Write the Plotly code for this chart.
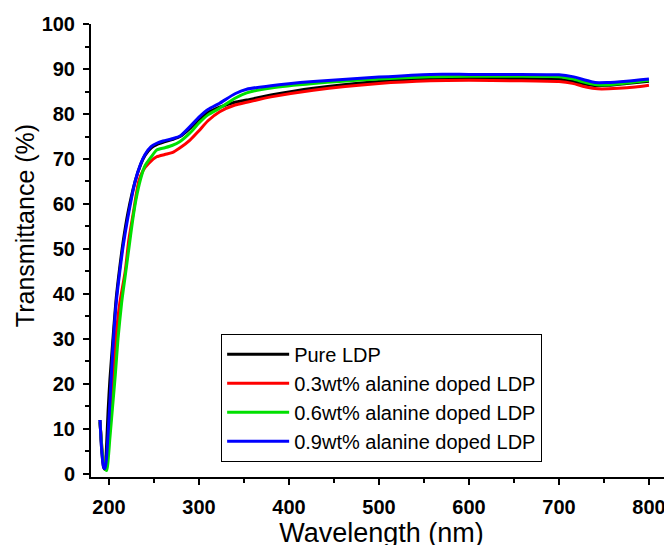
import plotly.graph_objects as go

# ── Data ──────────────────────────────────────────────────────────────────────
SERIES_NAMES = [
    "Pure LDP",
    "0.3wt% alanine doped LDP",
    "0.6wt% alanine doped LDP",
    "0.9wt% alanine doped LDP",
]
SERIES_COLOURS = ["#000000", "#FF0000", "#00E000", "#0000FF"]

wl_pure = [190, 192, 194, 195.5, 197, 199, 201, 204, 208, 212, 216, 221, 229, 235, 240,
           247, 253, 260, 270, 279, 290, 300, 310, 323, 340, 353, 380, 427, 500, 557,
           600, 650, 700, 715, 730, 742, 755, 775, 800]
t_pure = [12, 5, 1.5, 1, 5, 14, 21, 29, 39, 46, 52, 58, 65, 68.7, 70.8,
          72.5, 73.2, 73.7, 74.3, 75.0, 76.8, 78.8, 80.3, 81.5, 82.6, 83.1, 84.2, 85.7, 87.2, 87.9,
          88.0, 87.9, 87.7, 87.3, 86.6, 86.3, 86.4, 86.8, 87.3]

wl_03 = [190, 193, 195.5, 197, 199, 201, 204, 208, 212, 218, 222, 227, 233, 238, 244,
         253, 262, 270, 279, 290, 300, 310, 323, 340, 353, 380, 427, 500, 557,
         600, 650, 700, 715, 730, 743, 766, 785, 800]
t_03 = [11.5, 4, 1.2, 1.5, 6, 12, 20, 31, 38, 45, 52, 58, 65, 67.5, 69,
        70.5, 71, 71.4, 72.5, 74.2, 76.3, 78.5, 80.5, 82.0, 82.6, 83.8, 85.3, 86.8, 87.4,
        87.5, 87.4, 87.2, 86.8, 86.0, 85.6, 85.7, 86.0, 86.4]

wl_06 = [190, 193, 196, 197.5, 199, 201, 204, 207, 210, 214, 218, 222, 226, 230, 235,
         240, 247, 253, 262, 270, 279, 290, 300, 310, 323, 340, 353, 380, 427, 500,
         557, 600, 650, 700, 715, 730, 742, 755, 775, 800]
t_06 = [11.5, 4, 1, 0.8, 3, 8, 15, 22, 30, 38, 44, 50, 56, 61, 65.5,
        68.5, 70.5, 72, 72.5, 73, 73.9, 75.8, 78, 79.8, 81.3, 83.5, 84.7, 85.8, 86.8, 87.8,
        88.3, 88.4, 88.4, 88.3, 87.8, 87.0, 86.5, 86.5, 86.9, 87.5]

wl_09 = [190, 192, 194, 195.5, 197, 199, 201, 204, 208, 212, 216, 221, 229, 235, 240,
         247, 253, 260, 270, 279, 290, 300, 310, 323, 340, 353, 380, 427, 500, 557,
         600, 650, 700, 715, 730, 740, 753, 775, 800]
t_09 = [12, 5, 1.5, 1.2, 3, 9, 16, 27, 38, 45, 51, 57, 65, 68.8, 71,
        72.8, 73.5, 74, 74.5, 75.1, 77.2, 79.3, 81, 82.4, 84.5, 85.5, 86.3, 87.2, 88.2, 88.8,
        88.8, 88.8, 88.7, 88.3, 87.5, 87.0, 87.0, 87.3, 87.8]

X_TICKS = [200, 300, 400, 500, 600, 700, 800]
Y_TICKS = [0, 10, 20, 30, 40, 50, 60, 70, 80, 90, 100]

FONT = "Arial, Liberation Sans, sans-serif"

fig = go.Figure()

for name, colour, xs, ys in zip(
    SERIES_NAMES, SERIES_COLOURS,
    [wl_pure, wl_03, wl_06, wl_09],
    [t_pure, t_03, t_06, t_09],
):
    fig.add_trace(go.Scatter(
        x=xs,
        y=ys,
        name=name,
        mode="lines",
        line=dict(color=colour, width=3, shape="spline", smoothing=0.6),
    ))

axis_common = dict(
    showline=True,
    linecolor="black",
    linewidth=2,
    ticks="outside",
    ticklen=6,
    tickwidth=2,
    tickcolor="black",
    showgrid=False,
    zeroline=False,
    tickfont=dict(family=FONT, size=20, color="black", weight="bold"),
)

fig.update_xaxes(
    **axis_common,
    range=[180, 825.6],
    tickvals=X_TICKS,
    ticklabelstandoff=5,
    minor=dict(dtick=50, tick0=250, ticks="outside", ticklen=4, tickwidth=1.5, tickcolor="black"),
    title=dict(text="Wavelength (nm)", font=dict(family=FONT, size=27, color="black"), standoff=0),
)
fig.update_yaxes(
    **axis_common,
    range=[-0.67, 100],
    tickvals=Y_TICKS,
    ticklabelstandoff=4,
    minor=dict(dtick=5, tick0=5, ticks="outside", ticklen=4, tickwidth=1.5, tickcolor="black"),
)

# y title sits above the plot centre in the original, so it is placed by hand
fig.add_annotation(
    text="Transmittance (%)",
    xref="paper", yref="paper",
    x=-0.1136, y=0.556,
    xanchor="center", yanchor="middle",
    textangle=-90,
    showarrow=False,
    font=dict(family=FONT, size=25, color="black"),
)

# the page body adds an 8px offset, so margins are trimmed by that much
fig.update_layout(
    width=672,
    height=545,
    margin=dict(l=83, r=8, t=16, b=76, autoexpand=False),
    plot_bgcolor="white",
    paper_bgcolor="white",
    font=dict(family=FONT, color="black"),
    legend=dict(
        x=0.224, y=0.316,
        xanchor="left", yanchor="top",
        bgcolor="white",
        bordercolor="black",
        borderwidth=1,
        font=dict(family=FONT, size=20, color="black"),
        tracegroupgap=0,
        itemwidth=62,
    ),
)

fig.write_html("out.html")
